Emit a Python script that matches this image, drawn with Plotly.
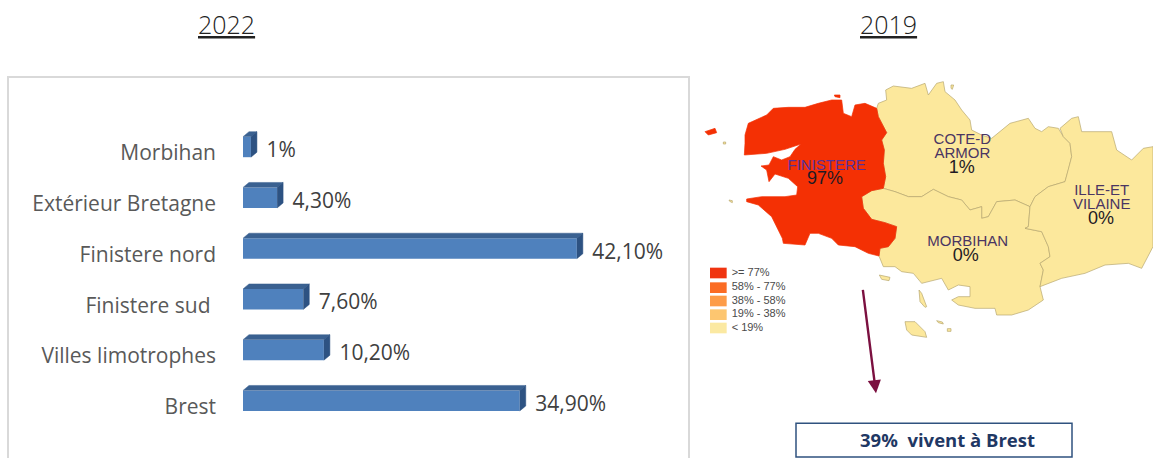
import plotly.graph_objects as go

# ---- bar chart data (top to bottom) ----
categories = ["Morbihan", "Extérieur Bretagne", "Finistere nord", "Finistere sud\u00a0", "Villes limotrophes", "Brest"]
values = [1.0, 4.3, 42.1, 7.6, 10.2, 34.9]
value_labels = ["1%", "4,30%", "42,10%", "7,60%", "10,20%", "34,90%"]

# ---- map data, in map units ----
finistere_x = [150,160,215,235,280,330,370,410,440,445,470,480,510,545,550,565,575,560,568,565,572,565,530,500,505,530,570,605,600,580,555,552,520,480,430,410,370,345,330,265,262,230,190,155,155,200,270,305,308,280,240,222,215,198,222,235,260,285,300,318,270,215,148,150]
finistere_y = [405,370,345,325,322,322,310,300,300,340,350,315,310,325,350,380,398,420,450,490,530,565,572,590,625,658,668,680,715,740,745,768,760,740,735,715,700,700,735,730,715,650,615,605,597,590,590,585,560,535,522,545,510,498,495,470,480,470,448,432,448,460,465,430]
armor_x = [545,550,575,572,595,620,650,690,700,725,745,750,780,800,825,830,860,890,915,945,1000,1020,1040,1060,1090,1105,1125,1130,1120,1110,1060,1020,1005,960,905,880,860,860,825,800,760,715,680,640,600,565,572,565,568,560,575,565,550]
armor_y = [325,310,300,270,258,262,265,250,285,250,245,275,300,330,360,390,405,415,395,370,355,385,395,380,385,410,430,470,510,545,560,590,620,600,605,650,655,620,630,600,590,568,590,590,575,565,530,490,450,420,398,380,350]
morbihan_x = [500,530,565,600,640,680,715,760,800,825,860,860,880,905,960,1005,1000,990,1040,1060,1065,1035,1045,1035,1045,1000,950,905,900,840,790,770,790,825,825,790,760,740,680,655,620,600,565,555,552,555,580,600,605,570,530,505]
morbihan_y = [590,572,565,575,590,590,568,590,600,630,620,655,650,605,600,620,680,685,695,740,770,790,810,860,900,930,945,945,925,925,915,900,890,890,860,855,870,835,850,820,815,800,800,770,768,745,740,715,680,668,658,625]
ille_x = [1110,1120,1130,1125,1105,1095,1130,1150,1160,1250,1265,1310,1345,1374,1374,1340,1300,1230,1170,1100,1035,1045,1035,1065,1060,1040,990,1000,1005,1020,1060]
ille_y = [545,510,470,430,410,385,355,350,395,395,450,480,445,440,740,805,790,795,820,835,860,810,790,770,740,695,685,680,620,590,560]
islands = {
    "belle_ile": ([630,660,690,695,650,635], [965,965,995,1012,1005,990]),
    "groix": ([553,585,582,560], [825,832,842,838]),
    "quiberon": ([672,680,695,690,675], [870,880,920,922,905]),
    "houat": ([725,742,745,730], [962,966,972,968]),
    "hoedic": ([757,768,768,757], [986,986,994,994]),
    "sein": ([102,112,112,104], [600,602,608,604]),
    "molene": ([85,92,92,85], [426,426,432,432]),
    "brehat": ([768,776,772,768], [255,255,268,265]),
}
ouessant_x = [30,60,65,40]
ouessant_y = [395,385,398,405]
batz_x = [418,435,435,420]
batz_y = [285,285,293,290]

region_labels = ["FINISTERE", "COTE-D", "ARMOR", "ILLE-ET", "VILAINE", "MORBIHAN"]
region_label_x = [395, 802, 802, 1220, 1220, 818]
region_label_y = [498, 421, 462, 574, 616, 727]
region_label_col = ["#57309a", "#4a3562", "#4a3562", "#4a3562", "#4a3562", "#4a3562"]
pct_labels = ["97%", "1%", "0%", "0%"]
pct_x = [390, 800, 1218, 812]
pct_y = [539, 505, 659, 768]

legend_labels = [">= 77%", "58% - 77%", "38% - 58%", "19% - 38%", "< 19%"]
legend_colors = ["#f03410", "#fb6c24", "#fd9c48", "#fdc670", "#fbe9a2"]
legend_y = [819, 863, 903, 944, 984]

YELLOW = "#fce89c"
RED = "#f43004"
EDGE = "#b7a870"

W, H = 1153, 458
PX_PER_UNIT = 7.93          # bar scale, px per percent
ROW = 50.75                 # px per category row
BAR_X0 = 243
PANEL_R = 689
PANEL_T = 77
FIRST_BOTTOM_ROW_Y = 400.7

fig = go.Figure()
n = len(categories)
ypos = [n - 1 - i for i in range(n)]
bar_w = 20.5 / ROW
dx = 6 / PX_PER_UNIT
dy = 5 / ROW

# 3D top and side faces derived from the values
for v, y in zip(values, ypos):
    t = y + bar_w / 2
    b = y - bar_w / 2
    fig.add_trace(go.Scatter(x=[0, dx, v + dx, v], y=[t, t + dy, t + dy, t], fill="toself",
                             fillcolor="#3a6191", mode="lines", line=dict(width=0.5, color="#3a6191"),
                             hoverinfo="skip", xaxis="x", yaxis="y"))
    fig.add_trace(go.Scatter(x=[v, v + dx, v + dx, v], y=[b, b + dy, t + dy, t], fill="toself",
                             fillcolor="#2d5282", mode="lines", line=dict(width=0.5, color="#2d5282"),
                             hoverinfo="skip", xaxis="x", yaxis="y"))
fig.add_trace(go.Bar(x=values, y=ypos, orientation="h", width=bar_w, marker=dict(color="#4f81bd", line=dict(width=0)),
                     xaxis="x", yaxis="y", hoverinfo="skip"))
fig.add_trace(go.Scatter(x=[v + dx + 9.5 / PX_PER_UNIT for v in values], y=[y - 5 / ROW for y in ypos], mode="text",
                         text=value_labels, textposition="middle right",
                         textfont=dict(family="Open Sans", size=21, color="#404040"), xaxis="x", yaxis="y", hoverinfo="skip"))

# Map
def region(xs, ys, color, name):
    fig.add_trace(go.Scatter(x=xs + xs[:1], y=ys + ys[:1], fill="toself", fillcolor=color, mode="lines",
                             line=dict(width=0.7, color=EDGE if color == YELLOW else color),
                             xaxis="x2", yaxis="y2", name=name, hoverinfo="skip"))

region(armor_x, armor_y, YELLOW, "armor")
region(morbihan_x, morbihan_y, YELLOW, "morbihan")
region(ille_x, ille_y, YELLOW, "ille")
for nm, (ix, iy) in islands.items():
    region(ix, iy, YELLOW, nm)
region(finistere_x, finistere_y, RED, "finistere")
region(ouessant_x, ouessant_y, RED, "ouessant")
region(batz_x, batz_y, RED, "batz")

fig.add_trace(go.Scatter(x=region_label_x, y=region_label_y, mode="text", text=region_labels,
                         textposition="middle center",
                         textfont=dict(family="Liberation Sans", size=15, color=region_label_col),
                         xaxis="x2", yaxis="y2", hoverinfo="skip"))
fig.add_trace(go.Scatter(x=pct_x, y=pct_y, mode="text", text=pct_labels, textposition="middle center",
                         textfont=dict(family="Liberation Sans", size=18, color="#1f1a24"),
                         xaxis="x2", yaxis="y2", hoverinfo="skip"))

# Map legend
for yc, col in zip(legend_y, legend_colors):
    fig.add_trace(go.Scatter(x=[45, 95, 95, 45, 45], y=[yc - 16, yc - 16, yc + 16, yc + 16, yc - 16], fill="toself",
                             fillcolor=col, mode="lines", line=dict(width=0), xaxis="x2", yaxis="y2", hoverinfo="skip"))
fig.add_trace(go.Scatter(x=[110] * 5, y=legend_y, mode="text", text=legend_labels, textposition="middle right",
                         textfont=dict(family="Liberation Sans", size=11, color="#4a4a4a"),
                         xaxis="x2", yaxis="y2", hoverinfo="skip"))

shapes = [
    dict(type="rect", xref="paper", yref="paper", x0=8 / W, x1=PANEL_R / W, y0=-0.05, y1=1 - PANEL_T / H,
         line=dict(color="#d9d9d9", width=2), fillcolor="rgba(0,0,0,0)", layer="below"),
    dict(type="rect", xref="x2", yref="y2", x0=303, x1=1131, y0=1270, y1=1371,
         line=dict(color="#2f527f", width=1.5), fillcolor="white"),
]
annotations = [
    dict(text="<u>2022</u>", xref="paper", yref="paper", x=226 / W, y=1 - 24 / H, showarrow=False,
         xanchor="center", yanchor="middle",
         font=dict(family="Open Sans", size=25, color="#222222", weight=300)),
    dict(text="<u>2019</u>", xref="paper", yref="paper", x=888 / W, y=1 - 24 / H, showarrow=False,
         xanchor="center", yanchor="middle",
         font=dict(family="Open Sans", size=25, color="#222222", weight=300)),
    dict(text="<b>39%  vivent à Brest</b>", xref="x2", yref="y2", x=756, y=1318, showarrow=False,
         xanchor="center", yanchor="middle",
         font=dict(family="Open Sans", size=18.5, color="#1f3864")),
    dict(x=543, y=1180, ax=503, ay=865, xref="x2", yref="y2", axref="x2", ayref="y2", text="", showarrow=True,
         arrowhead=2, arrowsize=1.1, arrowwidth=2.4, arrowcolor="#7b1040"),
]

fig.update_layout(
    width=W, height=H, margin=dict(l=0, r=0, t=0, b=0), showlegend=False,
    paper_bgcolor="white", plot_bgcolor="rgba(0,0,0,0)", shapes=shapes, annotations=annotations,
    xaxis=dict(domain=[BAR_X0 / W, PANEL_R / W], range=[0, (PANEL_R - BAR_X0) / PX_PER_UNIT], visible=False, fixedrange=True),
    yaxis=dict(domain=[0, 1 - PANEL_T / H], range=[-(H - FIRST_BOTTOM_ROW_Y) / ROW, (FIRST_BOTTOM_ROW_Y - PANEL_T) / ROW],
               tickmode="array", tickvals=[y - 6 / ROW for y in ypos], ticktext=categories,
               ticks="", showgrid=False, zeroline=False, showline=False, ticklabelstandoff=26,
               tickfont=dict(family="Open Sans", size=21, color="#595959"), fixedrange=True),
    xaxis2=dict(domain=[695 / W, 1], range=[0, 1374], visible=False, fixedrange=True, anchor="y2"),
    yaxis2=dict(domain=[0, 1], range=[1374, 0], visible=False, fixedrange=True, anchor="x2"),
)

fig.write_html("out.html", config=dict(displayModeBar=False), post_script="document.body.style.margin='0';")
